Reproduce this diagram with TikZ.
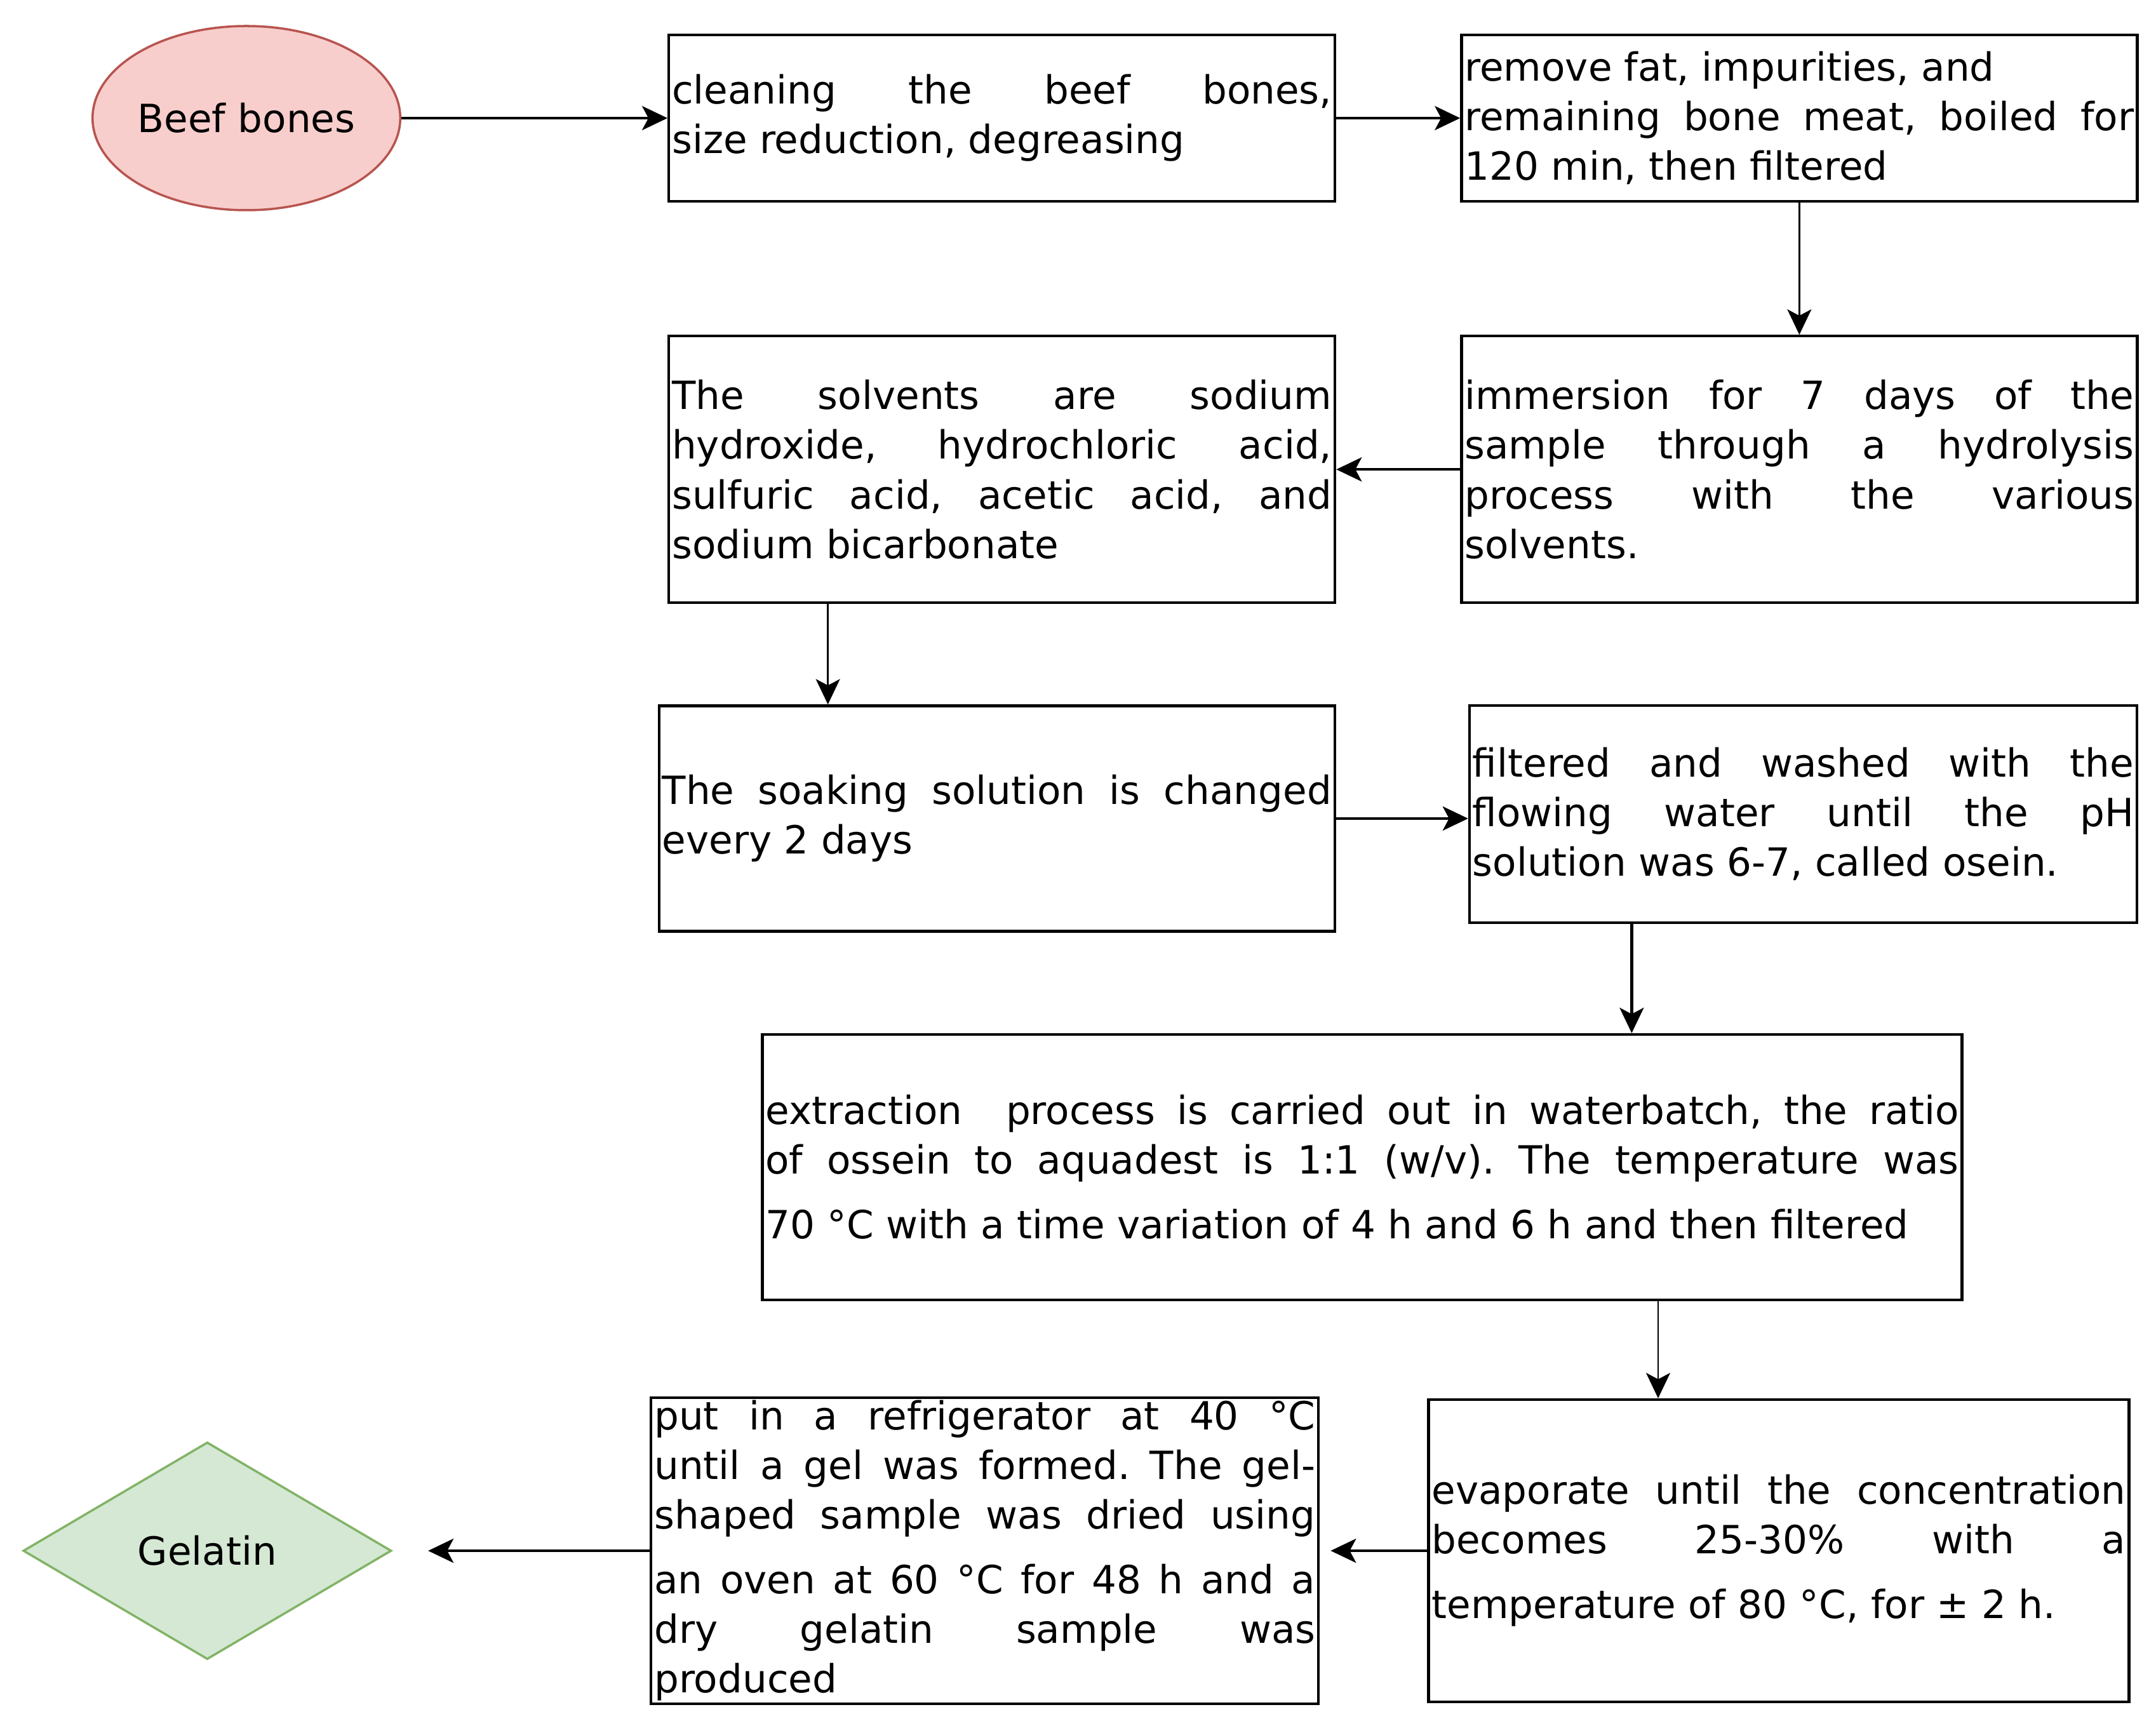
\documentclass[tikz,border=0pt]{standalone}
\usepackage{fontspec}
\setmainfont{DejaVu Sans}
\usetikzlibrary{shapes,arrows.meta,positioning}
\definecolor{startfill}{HTML}{F8CECC}
\definecolor{startdraw}{HTML}{B85450}
\definecolor{endfill}{HTML}{D5E8D4}
\definecolor{enddraw}{HTML}{82B366}
\tolerance=10000
\frenchspacing

\begin{document}
\begin{tikzpicture}[
        font=\fontsize{17.4}{22.2}\selectfont,
        box/.style={
            rectangle,
            draw,
            line width=1.2pt,
            inner xsep=0.05cm,
            inner ysep=0pt,
            align=justify
        },
        start/.style={
            ellipse,
            draw=startdraw,
            fill=startfill,
            line width=1pt,
            minimum width=4.76cm,
            minimum height=2.9cm,
            inner sep=0pt
        },
        finish/.style={
            diamond,
            draw=enddraw,
            fill=endfill,
            line width=1pt,
            minimum width=5.8cm,
            minimum height=3.42cm,
            inner sep=0pt
        },
        arrow/.style={
            -{Stealth[length=0.4cm,width=0.38cm,inset=0.1cm]},
            line width=1.2pt
        },
        thin/.style={
            line width=0.8pt
        }
    ]
    \useasboundingbox (0,0) rectangle (33.95,-27.29);
    % First row
    \node[start] (bones) at (3.88,-1.86) {Beef bones};
    \node[box, text width=10.39cm, minimum height=2.62cm, right=4.19cm of bones] (clean) {
        cleaning the beef bones,\linebreak size reduction, degreasing};
    \node[box, text width=10.54cm, minimum height=2.62cm, right=1.95cm of clean] (boil) {
        remove fat, impurities, and\\ remaining bone meat, boiled for\linebreak 120 min, then filtered};
    % Hydrolysis
    \node[box, text width=10.54cm, minimum height=4.2cm, below=2.08cm of boil] (immerse) {
        immersion for 7 days of the\linebreak sample through a hydrolysis\linebreak
        process with the various\linebreak solvents.};
    \node[box, text width=10.39cm, minimum height=4.2cm, left=1.95cm of immerse] (solvents) {
        The solvents are sodium\linebreak hydroxide, hydrochloric acid,\linebreak
        sulfuric acid, acetic acid, and\linebreak sodium bicarbonate};
    % Soaking and washing
    \node[box, text width=10.54cm, minimum height=3.55cm, below=1.58cm of solvents, xshift=-0.08cm] (soak) {
        The soaking solution is changed\linebreak every 2 days};
    \node[box, text width=10.41cm, minimum height=3.42cm, right=2.08cm of soak, yshift=0.07cm] (wash) {
        filtered and washed with the\linebreak flowing water until the pH\linebreak
        solution was 6-7, called osein.};
    % Extraction
    \node[box, text width=18.79cm, minimum height=4.18cm] (extract) at (21.45,-18.38) {
        extraction\ \ process is carried out in waterbatch, the ratio\linebreak
        of ossein to aquadest is 1:1 (w/v). The temperature was\vspace{6.8pt}\linebreak
        70 °C with a time variation of 4 h and 6 h and then filtered};
    % Last row
    \node[box, text width=10.93cm, minimum height=4.76cm] (evap) at (28.01,-24.42) {
        evaporate until the concentration\linebreak becomes 25-30\% with a\vspace{6.8pt}\linebreak
        temperature of 80 °C, for ± 2 h.};
    \node[box, text width=10.41cm, minimum height=4.82cm, left=1.69cm of evap] (fridge) {
        put in a refrigerator at 40 °C\linebreak until a gel was formed. The gel-\linebreak
        shaped sample was dried using\vspace{6.8pt}\linebreak an oven at 60 °C for 48 h and a\linebreak
        dry gelatin sample was\linebreak produced};
    \node[finish, left=4.05cm of fridge] (gelatin) {Gelatin};
    % Connections
    \draw[arrow] (bones) -- (clean);
    \draw[arrow] (clean) -- (boil);
    \draw[arrow, thin] (boil) -- (immerse);
    \draw[arrow] (immerse) -- (solvents);
    \draw[arrow, thin] ([xshift=-2.74cm]solvents.south) coordinate (d1) -- (d1 |- soak.north);
    \draw[arrow] (soak.east) -- (soak.east -| wash.west);
    \draw[arrow] ([xshift=-2.7cm]wash.south) coordinate (f1) -- (f1 |- extract.north);
    \draw[arrow, thin] ([xshift=4.66cm]extract.south) coordinate (g1) -- (g1 |- evap.north);
    \draw[arrow, shorten >=0.17cm] (evap) -- (fridge);
    \draw[arrow, shorten >=0.56cm] (fridge) -- (gelatin);
\end{tikzpicture}
\end{document}
